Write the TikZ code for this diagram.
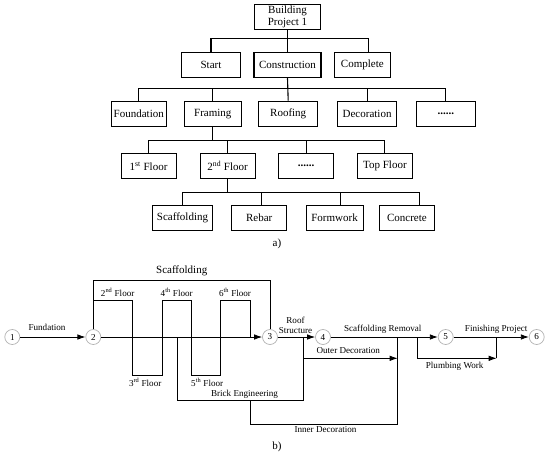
\documentclass[tikz,border=0pt]{standalone}
\usepackage{fontspec}
\newfontfamily\dfont{Liberation Serif}
\newcommand{\afont}{\dfont\fontsize{11}{12}\selectfont}
\newcommand{\bfont}{\dfont\fontsize{9.1}{10}\selectfont}
\usetikzlibrary{arrows.meta}
\begin{document}
\begin{tikzpicture}[x=1pt,y=-1pt,
  box/.style={draw, line width=1.1pt, minimum height=25.5pt, inner sep=0pt, font=\afont, align=center},
  tree/.style={line width=1.1pt},
  circ/.style={circle, draw=black!30, line width=0.7pt, minimum size=15pt, inner sep=0pt, font=\bfont},
  net/.style={line width=0.8pt},
  arr/.style={net, -{Latex[length=8pt,width=5.5pt]}},
  lbl/.style={inner sep=0pt, font=\bfont},
  big/.style={inner sep=0pt, font=\afont}
  ]
\useasboundingbox (0,0) rectangle (550,456);
% ---------- part a ----------
\node[box, minimum width=66pt] (root) at (287.5,17) {Building\\Project 1};
\node[box, minimum width=59pt] (start) at (211,65) {Start};
\node[box, minimum width=67pt] (cons) at (287.5,65) {Construction};
\node[box, minimum width=56pt] (comp) at (362.3,65) {Complete};

\node[box, minimum width=55pt] (found) at (138.8,114) {Foundation};
\node[box, minimum width=57pt] (frame) at (212.8,114) {Framing};
\node[box, minimum width=59pt] (roof) at (288.2,114) {Roofing};
\node[box, minimum width=59pt] (deco) at (367.1,114) {Decoration};
\node[box, minimum width=59pt] (dtwo) at (445.8,114) {\textbf{......}};

\node[box, minimum width=55pt] (fone) at (148.6,166) {1\textsuperscript{st} Floor};
\node[box, minimum width=55pt] (ftwo) at (227.6,166) {2\textsuperscript{nd} Floor};
\node[box, minimum width=55pt] (dthree) at (306.1,166) {\textbf{......}};
\node[box, minimum width=55pt] (ftop) at (384.9,166) {Top Floor};

\node[box, minimum width=60pt] (scaf) at (182.5,218) {Scaffolding};
\node[box, minimum width=55pt] (rebar) at (259.2,218) {Rebar};
\node[box, minimum width=57pt] (form) at (334.6,218) {Formwork};
\node[box, minimum width=55pt] (conc) at (406.9,218) {Concrete};

\draw[tree] (root.south) -- ++(0,8) -| (start.north);
\draw[tree] (root.south) -- (cons.north);
\draw[tree] (root.south) -- ++(0,8) -| ([xshift=6.3pt]comp.north);

\draw[tree] (cons.south) -- ++(0,10) -| (found.north);
\draw[tree] (cons.south) -- ++(0,10) -| (frame.north);
\draw[tree] (cons.south) -- (roof.north);
\draw[tree] (cons.south) -- ++(0,10) -| (deco.north);
\draw[tree] (cons.south) -- ++(0,10) -| (dtwo.north);

\draw[tree] (frame.south) -- ++(0,13) -| (fone.north);
\draw[tree] (frame.south) -- ++(0,13) -| (ftwo.north);
\draw[tree] (frame.south) -- ++(0,13) -| (dthree.north);
\draw[tree] (frame.south) -- ++(0,13) -| (ftop.north);

\draw[tree] (ftwo.south) -- ++(0,13.3) -| (scaf.north);
\draw[tree] (ftwo.south) -- ++(0,13.3) -| ([xshift=2.5pt]rebar.north);
\draw[tree] (ftwo.south) -- ++(0,13.3) -| ([xshift=6.1pt]form.north);
\draw[tree] (ftwo.south) -- ++(0,13.3) -| ([xshift=12.4pt]conc.north);

\node[big] (capa) at (277,244) {a)};

% ---------- part b ----------
\node[circ] (c1) at (12.3,337) {1};
\node[circ] (c2) at (93.3,337) {2};
\node[circ] (c3) at (270,337) {3};
\node[circ] (c4) at (323,337) {4};
\node[circ] (c5) at (445.7,337) {5};
\node[circ] (c6) at (536.7,337) {6};

\draw[arr] (c1) -- (c2);
\draw[arr] (c2) -- (c3);
\draw[arr] (c3) -- (c4);
\draw[arr] (c4) -- (c5);
\draw[arr] (c5) -- (c6);

% scaffolding
\draw[net] (c2.north) -- ++(0,-48.5) -| (c3.north);
% floors zigzag
\coordinate (z0) at (93.3,300);
\coordinate (z1) at (250.7,337);
\draw[net] (z0) -- (132.7,300) -- (132.7,375) -- (162.3,375) -- (162.3,300)
  -- (191,300) -- (191,375) -- (220.7,375) -- (220.7,300) -- (250.7,300) -- (z1);
% brick engineering
\coordinate (b0) at (177.7,337);
\coordinate (b1) at (303.3,337);
\draw[net] (b0) -- (177.7,400.7) -| (b1);
% inner decoration
\coordinate (i0) at (250.7,400.7);
\coordinate (i1) at (397.7,337);
\draw[net] (i0) -- (250.7,424) -| (i1);
% outer decoration
\coordinate (o0) at (303.3,358.3);
\coordinate (o1) at (397.7,358.3);
\draw[arr] (o0) -- (o1);
% plumbing
\coordinate (p0) at (417.3,337);
\coordinate (p1) at (496.7,358.3);
\coordinate (p2) at (496.7,337);
\draw[net] (p1) -- (p2);
\draw[arr] (p0) |- (p1);

% labels
\node[lbl] (lfund) at (47,327.7) {Fundation};
\node[big] (lscaf) at (181.7,270.7) {Scaffolding};
\node[lbl] (lf2) at (117.7,292.3) {2\textsuperscript{nd} Floor};
\node[lbl] (lf4) at (176.7,292.3) {4\textsuperscript{th} Floor};
\node[lbl] (lf6) at (235,292.3) {6\textsuperscript{th} Floor};
\node[lbl] (lf3) at (145.2,382.7) {3\textsuperscript{rd} Floor};
\node[lbl] (lf5) at (207.2,382.7) {5\textsuperscript{th} Floor};
\node[lbl, align=center] (lroof) at (295.5,325) {Roof\\Structure};
\node[lbl] (lsrem) at (382.8,329.3) {Scaffolding Removal};
\node[lbl] (lfin) at (496.2,329.3) {Finishing Project};
\node[lbl] (lout) at (348.3,351) {Outer Decoration};
\node[lbl] (lplumb) at (454.7,366.7) {Plumbing Work};
\node[lbl] (lbrick) at (244.5,394.3) {Brick Engineering};
\node[lbl] (linner) at (325.5,430) {Inner Decoration};
\node[big] (capb) at (277,447) {b)};
\end{tikzpicture}
\end{document}
